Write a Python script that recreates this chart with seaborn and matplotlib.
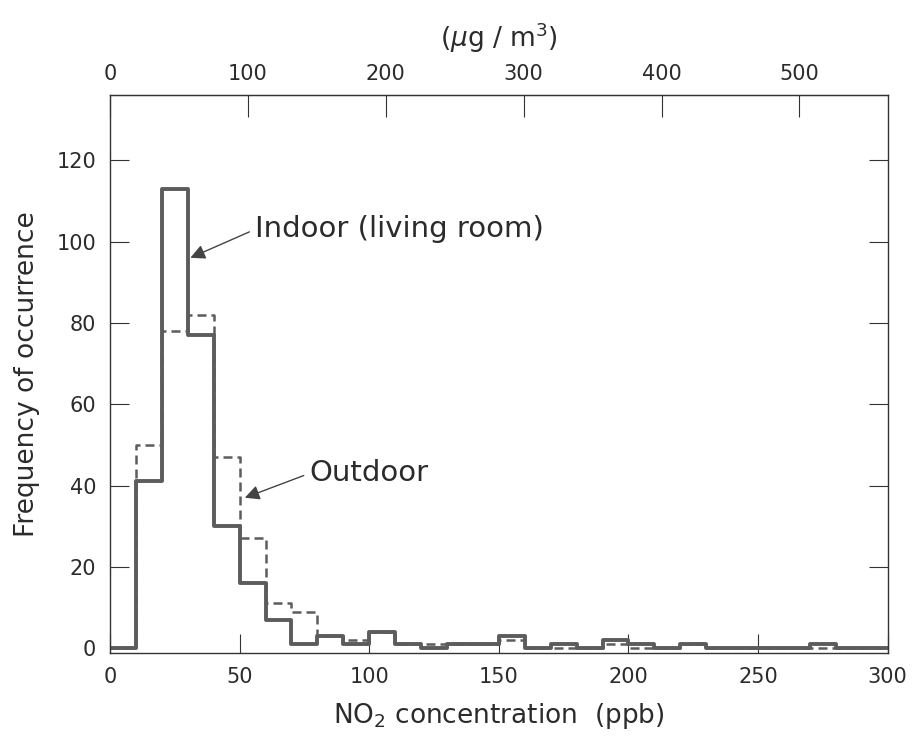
import matplotlib
matplotlib.use("Agg")
import numpy as np
import pandas as pd
import seaborn as sns
import matplotlib.pyplot as plt

# NO2 concentration bins (ppb, bin centres, 10 ppb wide)
conc_ppb = [5, 15, 25, 35, 45, 55, 65, 75, 85, 95,
            105, 115, 125, 135, 145, 155, 165, 175, 185, 195,
            205, 215, 225, 235, 245, 255, 265, 275, 285, 295]
indoor_counts = [0, 41, 113, 77, 30, 16, 7, 1, 3, 1,
                 4, 1, 0, 1, 1, 3, 0, 1, 0, 2,
                 1, 0, 1, 0, 0, 0, 0, 1, 0, 0]
outdoor_counts = [0, 50, 78, 82, 47, 27, 11, 9, 3, 2,
                  4, 1, 1, 1, 1, 2, 0, 0, 0, 1,
                  0, 0, 1, 0, 0, 0, 0, 0, 0, 0]
ppb_ticks = [0, 50, 100, 150, 200, 250, 300]
ugm3_ticks = [0, 100, 200, 300, 400, 500]
freq_ticks = [0, 20, 40, 60, 80, 100, 120]
PPB_TO_UG = 1.88

df = pd.DataFrame({"ppb": conc_ppb, "indoor": indoor_counts, "outdoor": outdoor_counts})

sns.set_style("white")
plt.rcParams["font.family"] = ["DejaVu Sans"]
plt.rcParams["mathtext.default"] = "regular"
txt = "#2b2b2b"
line_col = "#5c5c5c"

fig = plt.figure(figsize=(9.17, 7.43), dpi=100)
ax = fig.add_axes([0.12, 0.121, 0.848, 0.751])

sns.histplot(data=df, x="ppb", weights="outdoor", binwidth=10, binrange=(0, 300),
             element="step", fill=False, color=line_col, linewidth=1.8,
             linestyle=(0, (3.6, 2.0)), ax=ax)
sns.histplot(data=df, x="ppb", weights="indoor", binwidth=10, binrange=(0, 300),
             element="step", fill=False, color=line_col, linewidth=2.8, ax=ax)

ax.set_xlim(0, 300)
ax.set_ylim(-1.2, 136)
ax.set_xticks(ppb_ticks)
ax.set_yticks(freq_ticks)
ax.set_xticklabels([str(t) for t in ppb_ticks])
ax.set_yticklabels([str(t) for t in freq_ticks])
ax.tick_params(axis="both", direction="in", length=14, width=0.8, colors="#333333",
               labelcolor=txt, labelsize=15, pad=10, left=True, bottom=True,
               top=False, right=True)
for s in ax.spines.values():
    s.set_color("#333333")
    s.set_linewidth(1.0)

ax.set_xlabel(r"NO$_2$ concentration  (ppb)", fontsize=19, color=txt, labelpad=10)
ax.set_ylabel("Frequency of occurrence", fontsize=19, color=txt, labelpad=12)

top = ax.secondary_xaxis("top", functions=(lambda x: x * PPB_TO_UG, lambda x: x / PPB_TO_UG))
top.set_xticks(ugm3_ticks)
top.set_xticklabels([str(t) for t in ugm3_ticks])
top.tick_params(direction="in", length=16, width=0.8, colors="#333333",
                labelcolor=txt, labelsize=15, pad=8, top=True)
top.set_xlabel(r"($\mathit{\mu}$g / m$^3$)", fontsize=19, color=txt, labelpad=12)

arrow = dict(arrowstyle="-|>", color="#444444", lw=1.0, mutation_scale=22,
             shrinkA=2, shrinkB=0, relpos=(0, 0.5))
ax.annotate("Indoor (living room)", xy=(31, 96), xytext=(56, 103),
            fontsize=21, color=txt, ha="left", va="center", arrowprops=arrow)
ax.annotate("Outdoor", xy=(52, 37), xytext=(77, 43),
            fontsize=21, color=txt, ha="left", va="center", arrowprops=arrow)

fig.savefig("out.png", dpi=100, facecolor="white")
